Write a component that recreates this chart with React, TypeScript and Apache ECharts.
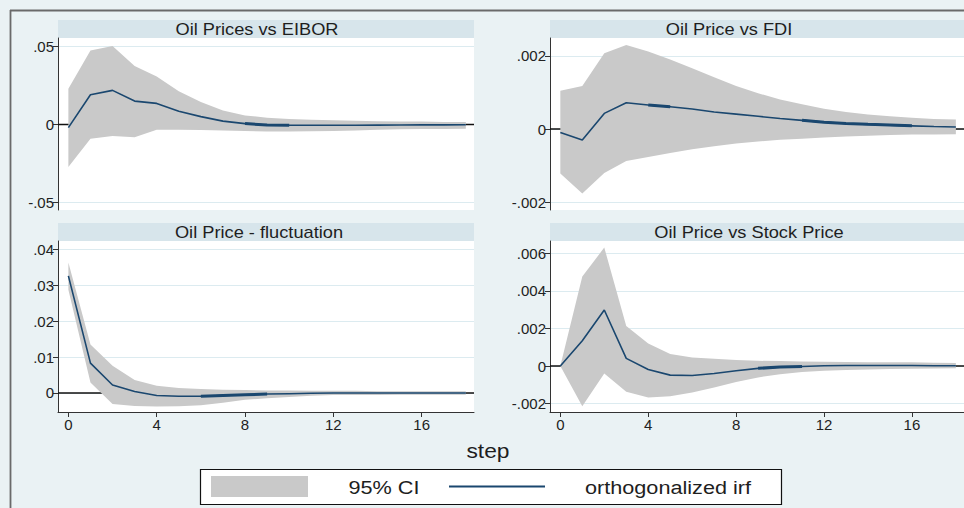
import React, { useEffect, useRef } from "react";
import * as echarts from "echarts";

const steps = [0, 1, 2, 3, 4, 5, 6, 7, 8, 9, 10, 11, 12, 13, 14, 15, 16, 17, 18];
const xTicks = [0, 4, 8, 12, 16];

const panelTitles = [
  "Oil Prices vs EIBOR",
  "Oil Price vs FDI",
  "Oil Price - fluctuation",
  "Oil Price vs Stock Price",
];

// Oil Prices vs EIBOR
const eiborIrf = [-0.0021, 0.0191, 0.0219, 0.015, 0.0135, 0.0084, 0.005, 0.0021, 0.0005, -0.0004, -0.0006, -0.0006, -0.0006, -0.0006, -0.0005, -0.0004, -0.0003, -0.0003, -0.0002];
const eiborLo = [-0.0275, -0.0092, -0.0075, -0.0082, -0.0034, -0.0034, -0.0036, -0.0039, -0.0043, -0.0045, -0.0045, -0.0044, -0.0042, -0.0039, -0.0035, -0.0032, -0.003, -0.0029, -0.0028];
const eiborHi = [0.023, 0.0476, 0.0504, 0.0375, 0.0309, 0.0214, 0.0144, 0.009, 0.0058, 0.0043, 0.0034, 0.003, 0.0026, 0.0023, 0.0021, 0.0019, 0.0018, 0.0016, 0.0015];
const eiborTicks = [-0.05, 0, 0.05];
const eiborBold = [[8, 10]];

// Oil Price vs FDI
const fdiIrf = [-0.00009, -0.0003, 0.00043, 0.00072, 0.00066, 0.00061, 0.00055, 0.00047, 0.00041, 0.00035, 0.00029, 0.00024, 0.00019, 0.000155, 0.00013, 0.00011, 0.00009, 0.00007, 0.00006];
const fdiLo = [-0.00121, -0.00176, -0.0012, -0.00087, -0.00076, -0.00065, -0.00055, -0.00047, -0.00039, -0.00034, -0.00029, -0.00026, -0.00023, -0.0002, -0.00018, -0.00016, -0.00015, -0.00015, -0.00014];
const fdiHi = [0.00105, 0.00118, 0.00207, 0.0023, 0.00212, 0.0019, 0.00166, 0.00142, 0.00118, 0.00098, 0.00081, 0.00068, 0.00056, 0.00047, 0.0004, 0.00035, 0.00031, 0.00028, 0.00026];
const fdiTicks = [-0.002, 0, 0.002];
const fdiBold = [[4, 5], [11, 16]];

// Oil Price - fluctuation
const fluctIrf = [0.0326, 0.0083, 0.0022, 0.0004, -0.0007, -0.0009, -0.0009, -0.0007, -0.0005, -0.0003, -0.0002, -0.0001, 0, 0, 0, 0, 0, 0, 0];
const fluctLo = [0.0287, 0.0029, -0.0031, -0.0036, -0.0038, -0.0037, -0.0034, -0.0027, -0.0019, -0.0015, -0.0011, -0.0008, -0.0006, -0.0006, -0.0006, -0.0005, -0.0005, -0.0005, -0.0005];
const fluctHi = [0.0363, 0.0135, 0.0076, 0.0036, 0.002, 0.0014, 0.0011, 0.0009, 0.0008, 0.0007, 0.0007, 0.0006, 0.0006, 0.0006, 0.0005, 0.0005, 0.0005, 0.0005, 0.0005];
const fluctTicks = [0, 0.01, 0.02, 0.03, 0.04];
const fluctBold = [[6, 9]];

// Oil Price vs Stock Price
const stockIrf = [0, 0.00135, 0.00298, 0.00041, -0.00018, -0.00048, -0.0005, -0.00039, -0.00025, -0.00012, -0.00005, -0.00002, 0.00002, 0.00003, 0.00003, 0.00003, 0.00003, 0.00002, 0.00002];
const stockLo = [0, -0.00213, -0.00039, -0.00137, -0.00167, -0.0016, -0.0014, -0.00114, -0.00085, -0.0006, -0.00043, -0.00032, -0.00025, -0.00021, -0.00018, -0.00016, -0.00014, -0.00013, -0.00012];
const stockHi = [0, 0.00476, 0.0063, 0.00213, 0.0012, 0.00064, 0.00046, 0.00039, 0.00032, 0.00028, 0.00027, 0.00025, 0.00023, 0.00022, 0.00021, 0.0002, 0.0002, 0.00018, 0.00016];
const stockTicks = [-0.002, 0, 0.002, 0.004, 0.006];
const stockBold = [[9, 11]];

const legendLabels = ["95% CI", "orthogonalized irf"];
const xAxisTitle = "step";

const NAVY = "#1a476f";
const CI_GREY = "#c9c9c9";
const BG = "#eaf2f4";
const BAND = "#d7e5eb";
const GRID_LINE = "#dcebf0";

const X_MIN = -0.47;
const X_MAX = 18.37;

function fmt(v: number): string {
  if (Math.abs(v) < 1e-12) return "0";
  const s = String(Math.abs(Number(v.toPrecision(6))));
  return (v < 0 ? "-" : "") + s.replace(/^0\./, ".");
}

const panels = [
  { irf: eiborIrf, lo: eiborLo, hi: eiborHi, ticks: eiborTicks, bold: eiborBold, yMin: -0.0551, yMax: 0.0556, left: 58, top: 38, height: 172, showX: false, titleX: 257, titleY: 29 },
  { irf: fdiIrf, lo: fdiLo, hi: fdiHi, ticks: fdiTicks, bold: fdiBold, yMin: -0.00221, yMax: 0.00249, left: 550, top: 38, height: 172, showX: false, titleX: 729, titleY: 29 },
  { irf: fluctIrf, lo: fluctLo, hi: fluctHi, ticks: fluctTicks, bold: fluctBold, yMin: -0.0053, yMax: 0.0423, left: 58, top: 241, height: 171, showX: true, titleX: 259, titleY: 232 },
  { irf: stockIrf, lo: stockLo, hi: stockHi, ticks: stockTicks, bold: stockBold, yMin: -0.00244, yMax: 0.00665, left: 550, top: 241, height: 171, showX: true, titleX: 749, titleY: 232 },
];

const PANEL_W = 416;

export default function App() {
  const ref = useRef<HTMLDivElement>(null);

  useEffect(() => {
    if (!ref.current) return;
    const chart = echarts.init(ref.current, undefined, { renderer: "svg" });

    const grids: any[] = [];
    const xAxes: any[] = [];
    const yAxes: any[] = [];
    const series: any[] = [];
    const graphics: any[] = [];

    panels.forEach((p, i) => {
      grids.push({
        left: p.left,
        top: p.top,
        width: PANEL_W,
        height: p.height,
        show: true,
        backgroundColor: "#ffffff",
        borderWidth: 0,
        containLabel: false,
      });
      xAxes.push({
        type: "value",
        gridIndex: i,
        min: X_MIN,
        max: X_MAX,
        axisLine: { show: p.showX, onZero: false, lineStyle: { color: "#333", width: 1 } },
        axisTick: { show: p.showX, customValues: xTicks, length: 5, lineStyle: { color: "#333" } },
        axisLabel: {
          show: p.showX,
          customValues: xTicks,
          fontSize: 15,
          color: "#222",
          fontFamily: "Liberation Sans, Arial, sans-serif",
          margin: 5,
        },
        splitLine: { show: false },
      });
      yAxes.push({
        type: "value",
        gridIndex: i,
        min: p.yMin,
        max: p.yMax,
        axisLine: { show: true, onZero: false, lineStyle: { color: "#333", width: 1 } },
        axisTick: { show: true, customValues: p.ticks, length: 5, lineStyle: { color: "#333" } },
        axisLabel: {
          show: true,
          customValues: p.ticks,
          formatter: (v: number) => fmt(v),
          fontSize: 15,
          color: "#222",
          fontFamily: "Liberation Sans, Arial, sans-serif",
          margin: 4,
        },
        splitLine: { show: true, lineStyle: { color: GRID_LINE, width: 1 } },
      });

      // zero reference line (drawn beneath the band)
      series.push({
        type: "line",
        xAxisIndex: i,
        yAxisIndex: i,
        data: [
          [X_MIN, 0],
          [X_MAX, 0],
        ],
        symbol: "none",
        lineStyle: { color: "#111", width: 1.5 },
        z: 1,
        silent: true,
      });
      // CI band as one polygon through the axes' scales
      const lo = p.lo;
      const hi = p.hi;
      series.push({
        type: "custom",
        name: legendLabels[0],
        xAxisIndex: i,
        yAxisIndex: i,
        data: steps.map((s, k) => [s, lo[k], hi[k]]),
        encode: { x: 0, y: [1, 2] },
        clip: true,
        z: 2,
        silent: true,
        renderItem: (params: any, api: any) => {
          if (params.dataIndexInside !== 0) return null;
          const pts: number[][] = [];
          for (let k = 0; k < steps.length; k++) pts.push(api.coord([steps[k], hi[k]]));
          for (let k = steps.length - 1; k >= 0; k--) pts.push(api.coord([steps[k], lo[k]]));
          return {
            type: "polygon",
            shape: { points: pts },
            style: { fill: CI_GREY, stroke: null },
          };
        },
      });
      series.push({
        type: "line",
        name: legendLabels[1],
        xAxisIndex: i,
        yAxisIndex: i,
        data: steps.map((s, k) => [s, p.irf[k]]),
        symbol: "none",
        lineStyle: { color: NAVY, width: 1.6 },
        z: 3,
        silent: true,
      });
      // slightly heavier stretches of the irf line seen in the reference
      p.bold.forEach(([a, b]) => {
        series.push({
          type: "line",
          xAxisIndex: i,
          yAxisIndex: i,
          data: steps.slice(a, b + 1).map((s) => [s, p.irf[s]]),
          symbol: "none",
          lineStyle: { color: NAVY, width: 3 },
          z: 3,
          silent: true,
        });
      });

      // title band
      graphics.push({
        type: "rect",
        shape: { x: p.left, y: p.top - 18, width: PANEL_W, height: 18 },
        style: { fill: BAND },
        silent: true,
        z: -1,
      });
      graphics.push({
        type: "text",
        x: p.titleX,
        y: p.titleY,
        scaleX: 1.14,
        style: {
          text: panelTitles[i],
          fill: "#1e1e1e",
          font: "16px 'Liberation Sans', Arial, sans-serif",
          textAlign: "center",
          textVerticalAlign: "middle",
        },
        silent: true,
      });
    });

    // outer frame
    graphics.push({
      type: "line",
      shape: { x1: 10, y1: 10.5, x2: 964, y2: 10.5 },
      style: { stroke: "#6a6a6a", lineWidth: 1.8 },
      silent: true,
    });
    graphics.push({
      type: "line",
      shape: { x1: 10.5, y1: 10, x2: 10.5, y2: 508 },
      style: { stroke: "#6a6a6a", lineWidth: 1.8 },
      silent: true,
    });

    // x axis title
    graphics.push({
      type: "text",
      x: 488,
      y: 451,
      scaleX: 1.14,
      style: {
        text: xAxisTitle,
        fill: "#1e1e1e",
        font: "20px 'Liberation Sans', Arial, sans-serif",
        textAlign: "center",
        textVerticalAlign: "middle",
      },
      silent: true,
    });

    // legend
    graphics.push({
      type: "rect",
      shape: { x: 200.5, y: 469.5, width: 581, height: 35 },
      style: { fill: "#ffffff", stroke: "#111", lineWidth: 1.2 },
      silent: true,
    });
    graphics.push({
      type: "rect",
      shape: { x: 211, y: 476, width: 97, height: 21 },
      style: { fill: CI_GREY },
      silent: true,
    });
    graphics.push({
      type: "text",
      x: 384,
      y: 487,
      scaleX: 1.14,
      style: {
        text: legendLabels[0],
        fill: "#1e1e1e",
        font: "19px 'Liberation Sans', Arial, sans-serif",
        textAlign: "center",
        textVerticalAlign: "middle",
      },
      silent: true,
    });
    graphics.push({
      type: "line",
      shape: { x1: 449, y1: 486.5, x2: 545, y2: 486.5 },
      style: { stroke: NAVY, lineWidth: 2 },
      silent: true,
    });
    graphics.push({
      type: "text",
      x: 668,
      y: 487,
      scaleX: 1.14,
      style: {
        text: legendLabels[1],
        fill: "#1e1e1e",
        font: "19px 'Liberation Sans', Arial, sans-serif",
        textAlign: "center",
        textVerticalAlign: "middle",
      },
      silent: true,
    });

    chart.setOption({
      animation: false,
      backgroundColor: BG,
      grid: grids,
      xAxis: xAxes,
      yAxis: yAxes,
      series,
      graphic: { elements: graphics },
    });

    return () => {
      chart.dispose();
    };
  }, []);

  return (
    <div
      ref={ref}
      style={{ position: "absolute", left: 0, top: 0, width: 964, height: 508, overflow: "hidden" }}
    />
  );
}
